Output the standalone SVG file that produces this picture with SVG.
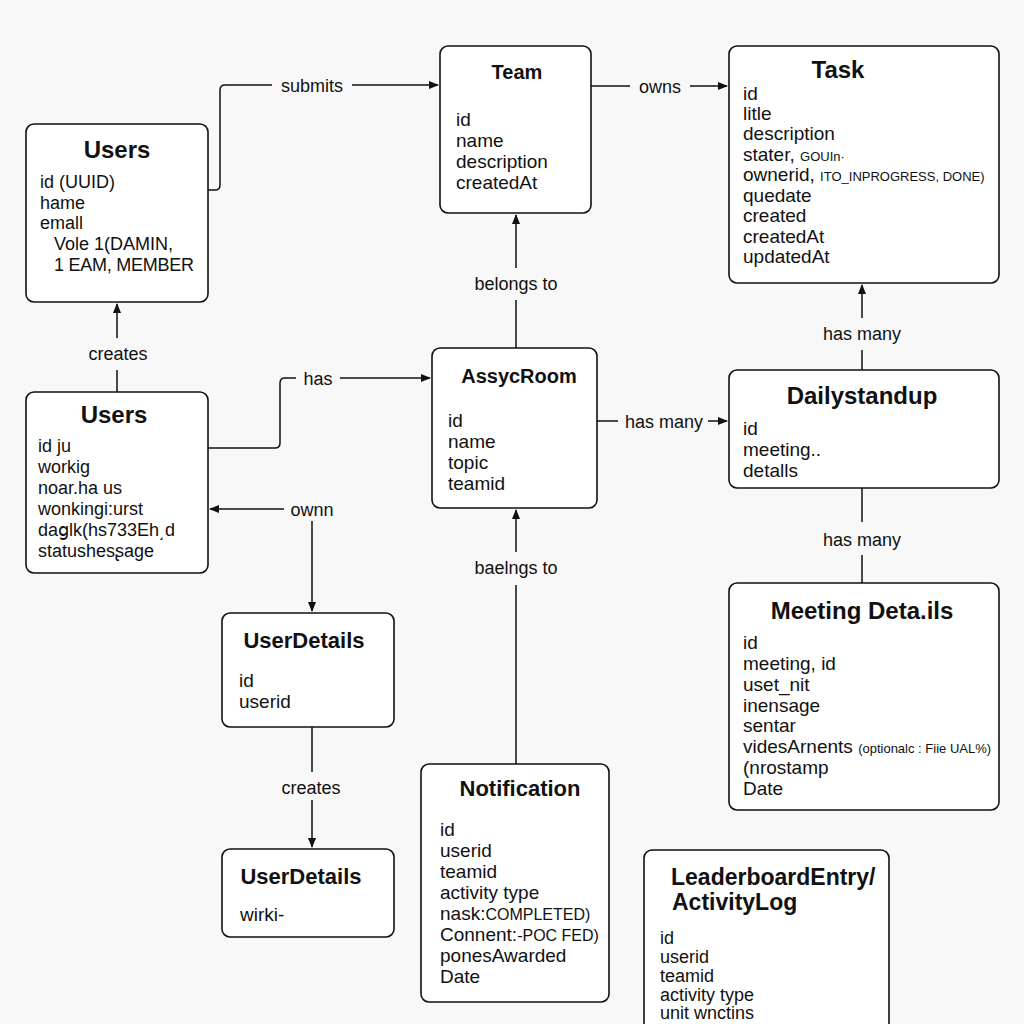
<svg xmlns="http://www.w3.org/2000/svg" width="1024" height="1024" viewBox="0 0 1024 1024">
<defs>
<marker id="arr" viewBox="0 0 10 10" refX="9" refY="5" markerWidth="10" markerHeight="10" markerUnits="userSpaceOnUse" orient="auto">
<path d="M0,1 L10,5 L0,9 Z" fill="#111"/>
</marker>
<style>
.box{fill:#fff;stroke:#111;stroke-width:1.6}
.ttl{font-family:"Liberation Sans",Arial,sans-serif;font-weight:bold;fill:#111;text-anchor:middle}
.ttls{font-family:"Liberation Sans",Arial,sans-serif;font-weight:bold;fill:#111;text-anchor:start}
.fld{font-family:"Liberation Sans",Arial,sans-serif;font-size:19px;fill:#111}
.fu{font-family:"Liberation Sans",Arial,sans-serif;font-size:18px;fill:#111}
.sm{font-size:13px}
.lbl{font-family:"Liberation Sans",Arial,sans-serif;font-size:18px;fill:#111;text-anchor:middle}
.ln{fill:none;stroke:#111;stroke-width:1.5}
</style>
</defs>
<rect width="1024" height="1024" fill="#f8f8f8"/>

<g id="connectors">
<path class="ln" d="M208,190 H215 Q220,190 220,185 V90 Q220,85 225,85 H272"/>
<path class="ln" d="M352,85 H438" marker-end="url(#arr)"/>
<text class="lbl" x="312" y="92">submits</text>

<path class="ln" d="M591,86 H630"/>
<path class="ln" d="M690,86 H727" marker-end="url(#arr)"/>
<text class="lbl" x="660" y="93">owns</text>

<path class="ln" d="M516,348 V300"/>
<path class="ln" d="M516,268 V215" marker-end="url(#arr)"/>
<text class="lbl" x="516" y="290">belongs to</text>

<path class="ln" d="M862,370 V350"/>
<path class="ln" d="M862,318 V285" marker-end="url(#arr)"/>
<text class="lbl" x="862" y="340">has many</text>

<path class="ln" d="M117,392 V370"/>
<path class="ln" d="M117,338 V304" marker-end="url(#arr)"/>
<text class="lbl" x="118" y="360">creates</text>

<path class="ln" d="M208,448 H275 Q280,448 280,443 V383 Q280,378 285,378 H296"/>
<path class="ln" d="M340,378 H430" marker-end="url(#arr)"/>
<text class="lbl" x="318" y="385">has</text>

<path class="ln" d="M597,421 H618"/>
<path class="ln" d="M708,421 H727" marker-end="url(#arr)"/>
<text class="lbl" x="664" y="428">has many</text>

<path class="ln" d="M862,488 V522"/>
<path class="ln" d="M862,555 V583"/>
<text class="lbl" x="862" y="546">has many</text>

<path class="ln" d="M284,509 H210" marker-end="url(#arr)"/>
<path class="ln" d="M312,521 V611" marker-end="url(#arr)"/>
<text class="lbl" x="312" y="516">ownn</text>

<path class="ln" d="M312,727 V772"/>
<path class="ln" d="M312,800 V847" marker-end="url(#arr)"/>
<text class="lbl" x="311" y="794">creates</text>

<path class="ln" d="M516,764 V585"/>
<path class="ln" d="M516,552 V510" marker-end="url(#arr)"/>
<text class="lbl" x="516" y="574">baelngs to</text>
</g>

<g id="users1">
<rect class="box" x="26" y="124" width="182" height="178" rx="8"/>
<text class="ttl" x="117" y="158" font-size="24">Users</text>
<text class="fu" x="40" y="188">id (UUID)</text>
<text class="fu" x="40" y="209">hame</text>
<text class="fu" x="40" y="229">emall</text>
<text class="fu" x="54" y="250">Vole 1(DAMIN,</text>
<text class="fu" x="54" y="271" textLength="140">1 EAM, MEMBER</text>
</g>

<g id="users2">
<rect class="box" x="26" y="392" width="182" height="181" rx="8"/>
<text class="ttl" x="114" y="423" font-size="24">Users</text>
<text class="fu" x="38" y="452">id ju</text>
<text class="fu" x="38" y="473">workig</text>
<text class="fu" x="38" y="494">noar.ha us</text>
<text class="fu" x="38" y="515">wonkingi:urst</text>
<text class="fu" x="38" y="536">daցlk(hs733Eh͵d</text>
<text class="fu" x="38" y="557">statushesʂage</text>
</g>

<g id="team">
<rect class="box" x="440" y="46" width="151" height="167" rx="8"/>
<text class="ttl" x="517" y="79" font-size="20">Team</text>
<text class="fld" x="456" y="126">id</text>
<text class="fld" x="456" y="147">name</text>
<text class="fld" x="456" y="168">description</text>
<text class="fld" x="456" y="189">createdAt</text>
</g>

<g id="task">
<rect class="box" x="729" y="46" width="270" height="237" rx="8"/>
<text class="ttl" x="838" y="78" font-size="24">Task</text>
<text class="fld" x="743" y="100">id</text>
<text class="fld" x="743" y="120">litle</text>
<text class="fld" x="743" y="140">description</text>
<text class="fld" x="743" y="161">stater, <tspan class="sm">GOUIn·</tspan></text>
<text class="fld" x="743" y="181">ownerid, <tspan class="sm">ITO_INPROGRESS, DONE)</tspan></text>
<text class="fld" x="743" y="202">quedate</text>
<text class="fld" x="743" y="222">created</text>
<text class="fld" x="743" y="243">createdAt</text>
<text class="fld" x="743" y="263">updatedAt</text>
</g>

<g id="assycroom">
<rect class="box" x="432" y="348" width="165" height="160" rx="8"/>
<text class="ttl" x="519" y="383" font-size="20">AssycRoom</text>
<text class="fld" x="448" y="427">id</text>
<text class="fld" x="448" y="448">name</text>
<text class="fld" x="448" y="469">topic</text>
<text class="fld" x="448" y="490">teamid</text>
</g>

<g id="dailystandup">
<rect class="box" x="729" y="370" width="270" height="118" rx="8"/>
<text class="ttl" x="862" y="404" font-size="24">Dailystandup</text>
<text class="fld" x="743" y="435">id</text>
<text class="fld" x="743" y="456">meeting..</text>
<text class="fld" x="743" y="477">detalls</text>
</g>

<g id="meetingdetails">
<rect class="box" x="729" y="583" width="270" height="227" rx="8"/>
<text class="ttl" x="862" y="619" font-size="24">Meeting Deta.ils</text>
<text class="fld" x="743" y="649">id</text>
<text class="fld" x="743" y="670">meeting, id</text>
<text class="fld" x="743" y="691">uset_nit</text>
<text class="fld" x="743" y="712">inensage</text>
<text class="fld" x="743" y="732">sentar</text>
<text class="fld" x="743" y="753">videsArnents <tspan class="sm">(optionalc : Fiie UAL%)</tspan></text>
<text class="fld" x="743" y="774">(nrostamp</text>
<text class="fld" x="743" y="795">Date</text>
</g>

<g id="userdetails1">
<rect class="box" x="222" y="613" width="172" height="114" rx="8"/>
<text class="ttl" x="304" y="648" font-size="22">UserDetails</text>
<text class="fld" x="239" y="687">id</text>
<text class="fld" x="239" y="708">userid</text>
</g>

<g id="userdetails2">
<rect class="box" x="222" y="849" width="172" height="88" rx="8"/>
<text class="ttl" x="301" y="884" font-size="22">UserDetails</text>
<text class="fld" x="240" y="921">wirki-</text>
</g>

<g id="notification">
<rect class="box" x="421" y="764" width="188" height="238" rx="8"/>
<text class="ttl" x="520" y="796" font-size="22">Notification</text>
<text class="fld" x="440" y="836">id</text>
<text class="fld" x="440" y="857">userid</text>
<text class="fld" x="440" y="878">teamid</text>
<text class="fld" x="440" y="899">activity type</text>
<text class="fld" x="440" y="920">nask:<tspan font-size="16">COMPLETED)</tspan></text>
<text class="fld" x="440" y="941">Connent:<tspan font-size="16">-POC FED)</tspan></text>
<text class="fld" x="440" y="962">ponesAwarded</text>
<text class="fld" x="440" y="983">Date</text>
</g>

<g id="leaderboard">
<rect class="box" x="644" y="850" width="245" height="190" rx="8"/>
<text class="ttls" x="671" y="885" font-size="23">LeaderboardEntry/</text>
<text class="ttls" x="672" y="910" font-size="23">ActivityLog</text>
<text class="fu" x="660" y="944">id</text>
<text class="fu" x="660" y="963">userid</text>
<text class="fu" x="660" y="982">teamid</text>
<text class="fu" x="660" y="1001">activity type</text>
<text class="fu" x="660" y="1019">unit wnctins</text>
</g>
</svg>
